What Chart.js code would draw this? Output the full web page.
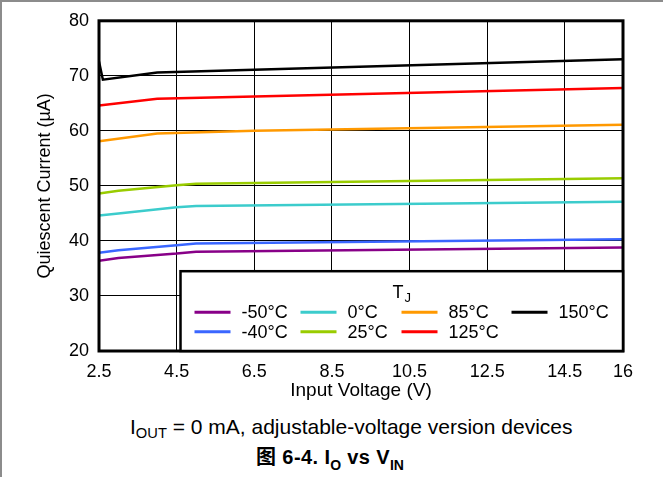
<!DOCTYPE html>
<html>
<head>
<meta charset="utf-8">
<script src="https://cdn.jsdelivr.net/npm/chart.js@4"></script>
<style>
  body { margin: 0; background: #fff; font-family: "Liberation Sans", Arial, sans-serif; }
  #frame { position: absolute; left: 0; top: 0; width: 663px; height: 477px; box-sizing: border-box;
           border-top: 2px solid #8c8c8c; border-left: 2px solid #8c8c8c; }
  #myChart { position: absolute; left: 0; top: 0; }
  .cap { position: absolute; white-space: nowrap; color: #000; }
  #note { left: 130px; top: 415px; font-size: 21px; }
  #fig { left: 256px; top: 441px; font-size: 20px; font-weight: bold; letter-spacing: 0.4px;
         font-family: "Liberation Sans", "Noto Sans CJK SC", sans-serif; }
  sub { font-size: 70%; vertical-align: -4px; line-height: 0; letter-spacing: 0; }
  #fig sub { vertical-align: -6px; }
</style>
</head>
<body>
<div id="frame"></div>
<canvas id="myChart" width="663" height="402"></canvas>
<div class="cap" id="note">I<sub>OUT</sub> = 0 mA, adjustable-voltage version devices</div>
<div class="cap" id="fig">图 6-4. I<sub>O</sub> vs V<sub>IN</sub></div>
<script>
// input voltage points (V) and quiescent current (uA)
var vinLow = [2.5, 3, 4.5, 5, 16];
var vinMid = [2.5, 4, 6.5, 16];
var vinHot = [2.5, 2.6, 4, 16];

var iqM50 = [36.4, 36.9, 37.7, 38.05, 38.8];
var iqM40 = [37.85, 38.3, 39.2, 39.55, 40.3];
var iq0 = [44.6, 45.0, 46.1, 46.35, 47.1];
var iq25 = [48.6, 49.1, 50.1, 50.4, 51.4];
var iq85 = [58.1, 59.5, 60.0, 61.1];
var iq125 = [64.6, 65.85, 66.25, 67.8];
var iq150 = [72.6, 69.3, 70.6, 73.0];

var xTicks = [2.5, 4.5, 6.5, 8.5, 10.5, 12.5, 14.5, 16];
var yTicks = [20, 30, 40, 50, 60, 70, 80];

var series = [
  { label: "-50°C", x: vinLow, y: iqM50, color: "#880088" },
  { label: "-40°C", x: vinLow, y: iqM40, color: "#3a66ff" },
  { label: "0°C", x: vinLow, y: iq0, color: "#3ccccc" },
  { label: "25°C", x: vinLow, y: iq25, color: "#99cc00" },
  { label: "85°C", x: vinMid, y: iq85, color: "#ff9900" },
  { label: "125°C", x: vinMid, y: iq125, color: "#ff0000" },
  { label: "150°C", x: vinHot, y: iq150, color: "#000000" }
];

var fontFam = '"Liberation Sans", Arial, sans-serif';

function toPoints(s) {
  return s.x.map(function (v, i) { return { x: v, y: s.y[i] }; });
}

// frame around the plot and the T_J legend box in the lower right
var boxPlugin = {
  id: "boxPlugin",
  afterDatasetsDraw: function (chart) {
    var ctx = chart.ctx;
    var a = chart.chartArea;
    ctx.save();
    ctx.strokeStyle = "#000";
    ctx.lineWidth = 3;
    ctx.strokeRect(a.left, a.top, a.right - a.left, a.bottom - a.top);

    var lx = chart.scales.x.getPixelForValue(4.6);
    var ly = chart.scales.y.getPixelForValue(34.5);
    ctx.fillStyle = "#fff";
    ctx.fillRect(lx, ly, a.right - lx, a.bottom - ly);
    ctx.lineWidth = 2.5;
    ctx.strokeRect(lx, ly, a.right - lx, a.bottom - ly);

    ctx.fillStyle = "#000";
    ctx.textBaseline = "alphabetic";
    ctx.font = "18px " + fontFam;
    ctx.fillText("T", lx + 212, ly + 27);
    ctx.font = "13px " + fontFam;
    ctx.fillText("J", lx + 224, ly + 31);

    var cols = [lx + 14, lx + 120, lx + 221, lx + 331];
    var rows = [ly + 41, ly + 60.5];
    ctx.font = "18px " + fontFam;
    ctx.textBaseline = "middle";
    chart.data.datasets.forEach(function (d, i) {
      var cx = cols[Math.floor(i / 2)];
      var cy = rows[i % 2];
      ctx.strokeStyle = d.borderColor;
      ctx.lineWidth = 3;
      ctx.beginPath();
      ctx.moveTo(cx, cy);
      ctx.lineTo(cx + 36, cy);
      ctx.stroke();
      ctx.fillStyle = "#000";
      ctx.fillText(d.label, cx + 47, cy + 1);
    });
    ctx.restore();
  }
};

var ctx = document.getElementById("myChart").getContext("2d");
var chart = new Chart(ctx, {
  type: "line",
  data: {
    datasets: series.map(function (s) {
      return {
        label: s.label,
        data: toPoints(s),
        borderColor: s.color,
        backgroundColor: s.color,
        borderWidth: 2.5,
        pointRadius: 0,
        tension: 0
      };
    })
  },
  options: {
    responsive: false,
    devicePixelRatio: 1,
    animation: false,
    layout: { padding: { top: 19, right: 40, left: 0, bottom: 0 } },
    plugins: { legend: { display: false }, tooltip: { enabled: false } },
    scales: {
      x: {
        type: "linear",
        min: 2.5,
        max: 16,
        afterBuildTicks: function (scale) {
          scale.ticks = xTicks.map(function (v) { return { value: v }; });
        },
        afterFit: function (scale) { scale.height = 51; },
        grid: { color: "#000", lineWidth: 1, drawTicks: false },
        border: { display: false },
        ticks: {
          color: "#000", padding: 10, maxRotation: 0, autoSkip: false,
          font: { family: fontFam, size: 18 },
          callback: function (v) { return String(v); }
        },
        title: {
          display: true, text: "Input Voltage (V)", color: "#000",
          padding: { top: 0, bottom: 0 }, font: { family: fontFam, size: 19 }
        }
      },
      y: {
        min: 20,
        max: 80,
        afterBuildTicks: function (scale) {
          scale.ticks = yTicks.map(function (v) { return { value: v }; });
        },
        afterFit: function (scale) { scale.width = 99; },
        grid: { color: "#000", lineWidth: 1, drawTicks: false },
        border: { display: false },
        ticks: {
          color: "#000", padding: 10,
          font: { family: fontFam, size: 18 }
        },
        title: {
          display: true, text: "Quiescent Current (µA)", color: "#000",
          padding: { top: 34, bottom: 0 }, font: { family: fontFam, size: 18 }
        }
      }
    }
  },
  plugins: [boxPlugin]
});
</script>
</body>
</html>
